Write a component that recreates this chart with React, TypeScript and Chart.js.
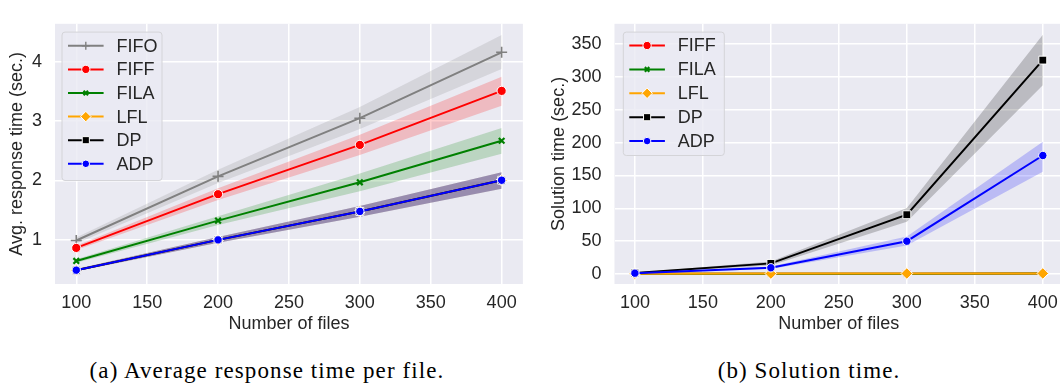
import React, { useEffect, useRef } from 'react';
import { Chart, registerables } from 'chart.js';

Chart.register(...registerables);

// ---------- data ----------
const xValues = [100, 200, 300, 400];
const xTicks = [100, 150, 200, 250, 300, 350, 400];
const respTicks = [1, 2, 3, 4];
const solTicks = [0, 50, 100, 150, 200, 250, 300, 350];

// (a) Average response time per file
const respFIFO = [0.99, 2.07, 3.05, 4.16];
const respFIFOLow = [0.94, 1.96, 2.87, 3.88];
const respFIFOHigh = [1.04, 2.18, 3.24, 4.45];
const respFIFF = [0.865, 1.77, 2.6, 3.51];
const respFIFFLow = [0.83, 1.67, 2.43, 3.26];
const respFIFFHigh = [0.9, 1.87, 2.77, 3.75];
const respFILA = [0.645, 1.325, 1.97, 2.67];
const respFILALow = [0.615, 1.25, 1.82, 2.45];
const respFILAHigh = [0.675, 1.4, 2.12, 2.885];
const respLFL = [0.49, 1.0, 1.48, 2.005];
const respLFLLow = [0.47, 0.95, 1.39, 1.86];
const respLFLHigh = [0.51, 1.05, 1.57, 2.14];
const respDP = [0.49, 1.0, 1.48, 2.005];
const respDPLow = [0.47, 0.95, 1.39, 1.86];
const respDPHigh = [0.51, 1.05, 1.57, 2.14];
const respADP = [0.49, 1.0, 1.48, 2.005];
const respADPLow = [0.47, 0.95, 1.39, 1.86];
const respADPHigh = [0.51, 1.05, 1.57, 2.14];

// (b) Solution time
const solFIFF = [0.3, 0.4, 0.5, 0.6];
const solFIFFLow = [0.2, 0.3, 0.4, 0.5];
const solFIFFHigh = [0.4, 0.5, 0.6, 0.7];
const solFILA = [0.3, 0.4, 0.5, 0.6];
const solFILALow = [0.2, 0.3, 0.4, 0.5];
const solFILAHigh = [0.4, 0.5, 0.6, 0.7];
const solLFL = [0.5, 0.6, 0.7, 0.8];
const solLFLLow = [0.4, 0.5, 0.6, 0.7];
const solLFLHigh = [0.6, 0.7, 0.8, 0.9];
const solDP = [1.5, 16.1, 90.2, 325.7];
const solDPLow = [1.2, 13, 79.5, 287.5];
const solDPHigh = [1.8, 19, 100.6, 364.2];
const solADP = [1.2, 9.4, 49.9, 180.4];
const solADPLow = [1.0, 7.5, 43.5, 155.5];
const solADPHigh = [1.4, 11.5, 57, 201.3];

// ---------- styles ----------
const FONT = "'Liberation Sans', Arial, sans-serif";
const FONT_SIZE = 18;
const TEXT = '#262626';
const BG = '#EAEAF2';

const STYLE: Record<string, any> = {
  FIFO: { color: '#808080', band: 'rgba(128,128,128,0.2)', marker: 'cross', radius: 5.5, edge: '#808080', edgeWidth: 1.6 },
  FIFF: { color: '#ff0000', band: 'rgba(255,0,0,0.2)', marker: 'circle', radius: 4.6, edge: '#ffffff', edgeWidth: 1 },
  FILA: { color: '#008000', band: 'rgba(0,128,0,0.2)', marker: 'crossRot', radius: 4, edge: '#008000', edgeWidth: 2.2 },
  LFL: { color: '#ffa500', band: 'rgba(255,165,0,0.2)', marker: 'rectRot', radius: 5.8, edge: '#ffffff', edgeWidth: 1 },
  DP: { color: '#000000', band: 'rgba(0,0,0,0.2)', marker: 'rect', radius: 5.6, edge: '#ffffff', edgeWidth: 1 },
  ADP: { color: '#0000ff', band: 'rgba(0,0,255,0.2)', marker: 'circle', radius: 4.2, edge: '#ffffff', edgeWidth: 1 },
};

type Series = { label: string; values: number[]; low: number[]; high: number[] };

const respSeries: Series[] = [
  { label: 'FIFO', values: respFIFO, low: respFIFOLow, high: respFIFOHigh },
  { label: 'FIFF', values: respFIFF, low: respFIFFLow, high: respFIFFHigh },
  { label: 'FILA', values: respFILA, low: respFILALow, high: respFILAHigh },
  { label: 'LFL', values: respLFL, low: respLFLLow, high: respLFLHigh },
  { label: 'DP', values: respDP, low: respDPLow, high: respDPHigh },
  { label: 'ADP', values: respADP, low: respADPLow, high: respADPHigh },
];

const solSeries: Series[] = [
  { label: 'FIFF', values: solFIFF, low: solFIFFLow, high: solFIFFHigh },
  { label: 'FILA', values: solFILA, low: solFILALow, high: solFILAHigh },
  { label: 'LFL', values: solLFL, low: solLFLLow, high: solLFLHigh },
  { label: 'DP', values: solDP, low: solDPLow, high: solDPHigh },
  { label: 'ADP', values: solADP, low: solADPLow, high: solADPHigh },
];

function toPts(arr: number[]) {
  return xValues.map((x, j) => ({ x, y: arr[j] }));
}

function buildDatasets(series: Series[]) {
  const n = series.length;
  const lines = series.map((s, i) => {
    const st = STYLE[s.label];
    return {
      label: s.label,
      data: toPts(s.values),
      borderColor: st.color,
      backgroundColor: st.color,
      borderWidth: 2,
      pointStyle: st.marker,
      pointRadius: st.radius,
      pointHoverRadius: st.radius,
      pointBackgroundColor: st.color,
      pointBorderColor: st.edge,
      pointBorderWidth: st.edgeWidth,
      fill: false,
      tension: 0,
      order: 20 - i,
      isBand: false,
    };
  });
  const bands: any[] = [];
  series.forEach((s, i) => {
    const st = STYLE[s.label];
    const lowIdx = lines.length + bands.length + 1;
    bands.push({
      label: s.label + ' band',
      isBand: true,
      data: toPts(s.high),
      borderWidth: 0,
      borderColor: 'rgba(0,0,0,0)',
      pointRadius: 0,
      pointHoverRadius: 0,
      backgroundColor: st.band,
      fill: lowIdx,
      order: 100 + (n - i) * 2,
    });
    bands.push({
      label: s.label + ' band low',
      isBand: true,
      data: toPts(s.low),
      borderWidth: 0,
      borderColor: 'rgba(0,0,0,0)',
      pointRadius: 0,
      pointHoverRadius: 0,
      backgroundColor: 'rgba(0,0,0,0)',
      fill: false,
      order: 100 + (n - i) * 2 - 1,
    });
  });
  return [...lines, ...bands];
}

function drawMarker(ctx: CanvasRenderingContext2D, style: string, x: number, y: number, r: number, fill: string, edge: string, lw: number) {
  ctx.save();
  ctx.beginPath();
  if (style === 'circle') {
    ctx.arc(x, y, r, 0, Math.PI * 2);
  } else if (style === 'rect') {
    const s = Math.SQRT1_2 * r;
    ctx.rect(x - s, y - s, 2 * s, 2 * s);
  } else if (style === 'rectRot') {
    ctx.moveTo(x - r, y);
    ctx.lineTo(x, y - r);
    ctx.lineTo(x + r, y);
    ctx.lineTo(x, y + r);
    ctx.closePath();
  } else if (style === 'cross' || style === 'crossRot') {
    if (style === 'cross') {
      ctx.moveTo(x, y - r);
      ctx.lineTo(x, y + r);
      ctx.moveTo(x - r, y);
      ctx.lineTo(x + r, y);
    } else {
      const d = Math.cos(Math.PI / 4) * r;
      ctx.moveTo(x - d, y - d);
      ctx.lineTo(x + d, y + d);
      ctx.moveTo(x + d, y - d);
      ctx.lineTo(x - d, y + d);
    }
    ctx.strokeStyle = edge;
    ctx.lineWidth = lw;
    ctx.stroke();
    ctx.restore();
    return;
  }
  ctx.fillStyle = fill;
  ctx.fill();
  ctx.strokeStyle = edge;
  ctx.lineWidth = lw;
  ctx.stroke();
  ctx.restore();
}

const bgPlugin = {
  id: 'plotBg',
  beforeDraw(chart: any) {
    const { ctx, chartArea: a } = chart;
    ctx.save();
    ctx.fillStyle = BG;
    ctx.fillRect(a.left, a.top, a.right - a.left, a.bottom - a.top);
    ctx.restore();
  },
};

const boxLegend = {
  id: 'boxLegend',
  afterDraw(chart: any, _args: any, opts: any) {
    const { ctx, chartArea: a } = chart;
    const items = chart.data.datasets.filter((d: any) => !d.isBand);
    const x0 = a.left + opts.dx;
    const y0 = a.top + opts.dy;
    const w = opts.width;
    const h = opts.height;
    ctx.save();
    ctx.beginPath();
    const rr = 3;
    ctx.moveTo(x0 + rr, y0);
    ctx.lineTo(x0 + w - rr, y0);
    ctx.quadraticCurveTo(x0 + w, y0, x0 + w, y0 + rr);
    ctx.lineTo(x0 + w, y0 + h - rr);
    ctx.quadraticCurveTo(x0 + w, y0 + h, x0 + w - rr, y0 + h);
    ctx.lineTo(x0 + rr, y0 + h);
    ctx.quadraticCurveTo(x0, y0 + h, x0, y0 + h - rr);
    ctx.lineTo(x0, y0 + rr);
    ctx.quadraticCurveTo(x0, y0, x0 + rr, y0);
    ctx.closePath();
    ctx.fillStyle = 'rgba(234,234,242,0.8)';
    ctx.fill();
    ctx.strokeStyle = '#d4d4d8';
    ctx.lineWidth = 1;
    ctx.stroke();
    items.forEach((d: any, i: number) => {
      const cy = y0 + opts.first + i * opts.row;
      ctx.beginPath();
      ctx.moveTo(x0 + 6, cy);
      ctx.lineTo(x0 + 41.6, cy);
      ctx.strokeStyle = d.borderColor;
      ctx.lineWidth = 2;
      ctx.stroke();
      const lr = d.pointStyle === 'cross' ? 4 : d.pointStyle === 'crossRot' ? 3.2 : d.pointRadius * 0.9;
      drawMarker(ctx, d.pointStyle, x0 + 23.8, cy, lr, d.pointBackgroundColor, d.pointBorderColor, d.pointStyle === 'cross' ? 1.4 : d.pointBorderWidth);
      ctx.fillStyle = TEXT;
      ctx.font = `${FONT_SIZE}px ${FONT}`;
      ctx.textAlign = 'left';
      ctx.textBaseline = 'middle';
      ctx.fillText(d.label, x0 + 54.5, cy + 1);
    });
    ctx.restore();
  },
};

function makeConfig(series: Series[], cfg: any) {
  const font = { family: FONT, size: FONT_SIZE };
  return {
    type: 'line' as const,
    data: { datasets: buildDatasets(series) },
    plugins: [bgPlugin, boxLegend],
    options: {
      animation: false,
      responsive: false,
      events: [],
      layout: { padding: { left: 0, right: cfg.padRight, top: 5, bottom: 0 } },
      plugins: {
        legend: { display: false },
        tooltip: { enabled: false },
        filler: { drawTime: 'beforeDatasetsDraw' },
        boxLegend: cfg.legend,
      },
      scales: {
        x: {
          type: 'linear',
          min: 85,
          max: 415,
          afterBuildTicks: (s: any) => {
            s.ticks = xTicks.map((v) => ({ value: v }));
          },
          afterFit: (s: any) => {
            s.height = 61;
          },
          ticks: { color: TEXT, font, padding: 8, maxRotation: 0, autoSkip: false, callback: (v: any) => String(v) },
          grid: { color: '#ffffff', lineWidth: 1.5, drawTicks: false },
          border: { display: false },
          title: { display: true, text: 'Number of files', color: TEXT, font, padding: { top: 0, bottom: 10 } },
        },
        y: {
          type: 'linear',
          min: cfg.yMin,
          max: cfg.yMax,
          afterBuildTicks: (s: any) => {
            s.ticks = cfg.yTicks.map((v: number) => ({ value: v }));
          },
          afterFit: (s: any) => {
            s.width = cfg.yWidth;
          },
          ticks: { color: TEXT, font, padding: 13, callback: (v: any) => String(v) },
          grid: { color: '#ffffff', lineWidth: 1.5, drawTicks: false },
          border: { display: false },
          title: { display: true, text: cfg.yTitle, color: TEXT, font, padding: { top: cfg.yTitlePad, bottom: 0 } },
        },
      },
    },
  };
}

function ChartCanvas({ series, cfg, style }: { series: Series[]; cfg: any; style: React.CSSProperties }) {
  const ref = useRef<HTMLCanvasElement | null>(null);
  useEffect(() => {
    if (!ref.current) return;
    const chart = new Chart(ref.current, makeConfig(series, cfg) as any);
    return () => chart.destroy();
  }, []);
  return <canvas ref={ref} width={cfg.width} height={cfg.height} style={{ position: 'absolute', ...style, width: cfg.width, height: cfg.height }} />;
}

const leftCfg = {
  width: 530,
  height: 345,
  padRight: 6,
  yMin: 0.257,
  yMax: 4.64,
  yTicks: respTicks,
  yWidth: 55,
  yTitle: 'Avg. response time (sec.)',
  yTitlePad: 6,
  legend: { dx: 7, dy: 8.3, width: 100, height: 148.4, first: 13.7, row: 23.6 },
};

const rightCfg = {
  width: 540,
  height: 345,
  padRight: 4,
  yMin: -15.3,
  yMax: 381,
  yTicks: solTicks,
  yWidth: 84.5,
  yTitle: 'Solution time (sec.)',
  yTitlePad: 18.5,
  legend: { dx: 8.8, dy: 8.3, width: 101, height: 123.4, first: 13.4, row: 23.9 },
};

const captionStyle: React.CSSProperties = {
  position: 'absolute',
  top: 358,
  fontFamily: "'Liberation Serif', 'Times New Roman', serif",
  fontSize: 23,
  lineHeight: '26px',
  letterSpacing: 1.1,
  color: '#000',
  whiteSpace: 'nowrap',
  transform: 'translateX(-50%)',
};

export default function App() {
  return (
    <div style={{ position: 'absolute', left: 0, top: 0, width: 1060, height: 385, overflow: 'hidden', background: '#fff' }}>
      <ChartCanvas series={respSeries} cfg={leftCfg} style={{ left: 0, top: 0 }} />
      <ChartCanvas series={solSeries} cfg={rightCfg} style={{ left: 530, top: 0 }} />
      <div style={{ ...captionStyle, left: 267 }}>(a) Average response time per file.</div>
      <div style={{ ...captionStyle, left: 809 }}>(b) Solution time.</div>
    </div>
  );
}
